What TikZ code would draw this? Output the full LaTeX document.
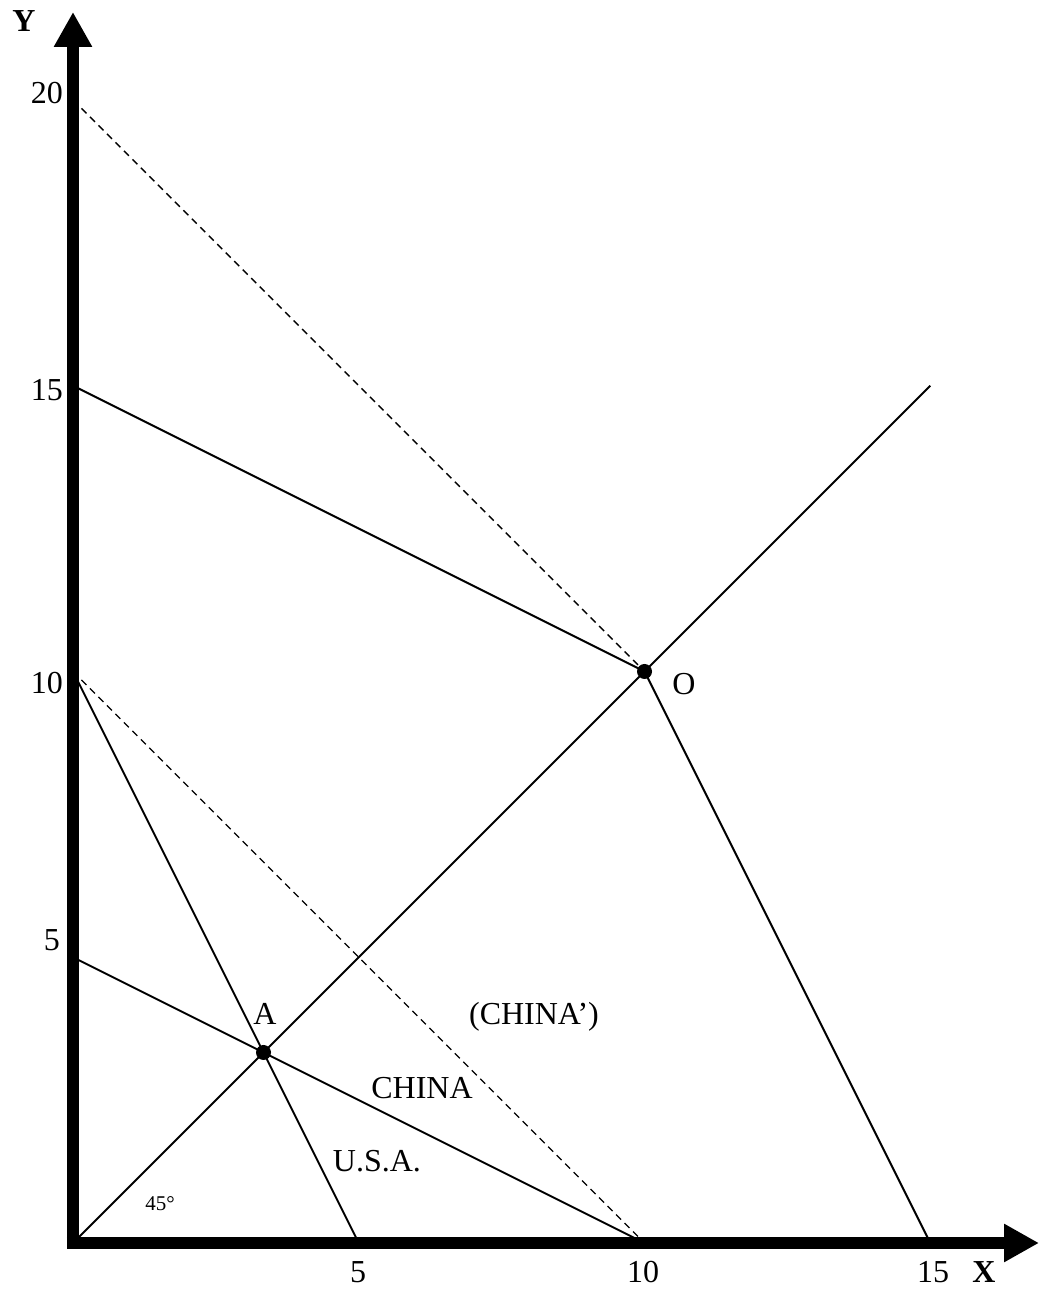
\documentclass[tikz,border=0pt]{standalone}
\usepackage{fontspec}
\setmainfont{Liberation Serif}
\usetikzlibrary{arrows.meta}
\begin{document}
\begin{tikzpicture}[x=57.15pt,y=57.15pt,
  axisline/.style={line width=12pt,-{Triangle[length=35pt,width=36pt]}},
  curve/.style={line width=2pt},
  dashcurve/.style={line width=1.4pt,dash pattern=on 7pt off 5pt},
  lbl/.style={inner sep=0pt,font=\fontsize{32}{38}\selectfont},
  smalllbl/.style={inner sep=0pt,font=\fontsize{21}{25}\selectfont},
  axlbl/.style={inner sep=0pt,font=\fontsize{32}{38}\selectfont\bfseries},
  pointdot/.style={circle,fill=black,inner sep=0pt,minimum size=15pt}]
\useasboundingbox (-73pt,-49pt) rectangle (969pt,1243pt);
% key coordinates
\coordinate (Or) at (0,0);
\coordinate (Y5) at (0,5);
\coordinate (Y10) at (0,10);
\coordinate (Y15) at (0,15);
\coordinate (Y20) at (0,20);
\coordinate (X5) at (5,0);
\coordinate (X10) at (10,0);
\coordinate (X15) at (15,0);
\coordinate (D15) at (15,15);
\coordinate (Ac) at (10/3,10/3);
\coordinate (Oc) at (10,10);
% dashed lines
\draw[dashcurve] (Y20) -- (Oc);
\draw[dashcurve] (Y10) -- (X10);
% solid lines
\draw[curve] (Y10) -- (X5);
\draw[curve] (Y5) -- (X10);
\draw[curve] (Y15) -- (Oc) -- (X15);
\draw[curve] (Or) -- (D15);
% axes
\coordinate (ytip) at (0,1231pt);
\coordinate (xtip) at (966pt,0);
\coordinate (ybase) at (0,-6pt);
\coordinate (xbase) at (-6pt,0);
\draw[axisline] (ybase) -- (ytip);
\draw[axisline] (xbase) -- (xtip);
% dots
\node[pointdot] (A) at (Ac) {};
\node[pointdot] (O) at (Oc) {};
% labels
\node[axlbl] (ylab) at (-49pt,1222pt) {Y};
\node[axlbl] (xlab) at (911pt,-29pt) {X};
\node[lbl] (x5) at (285pt,-29pt) {5};
\node[lbl] (x10) at (570pt,-29pt) {10};
\node[lbl] (x15) at (860pt,-29pt) {15};
\node[lbl,anchor=east] (y20) at (-10pt,1150pt) {20};
\node[lbl,anchor=east] (y15) at (-10pt,853pt) {15};
\node[lbl,anchor=east] (y10) at (-10pt,560pt) {10};
\node[lbl,anchor=east] (y5) at (-13pt,303pt) {5};
\node[lbl] (Olab) at (611pt,559pt) {O};
\node[lbl] (Alab) at (192pt,229pt) {A};
\node[lbl] (chinap) at (461pt,226pt) {(CHINA’)};
\node[lbl] (china) at (349pt,155pt) {CHINA};
\node[lbl] (usa) at (304pt,82pt) {U.S.A.};
\node[smalllbl] (deg) at (87pt,39pt) {45°};
\end{tikzpicture}
\end{document}
